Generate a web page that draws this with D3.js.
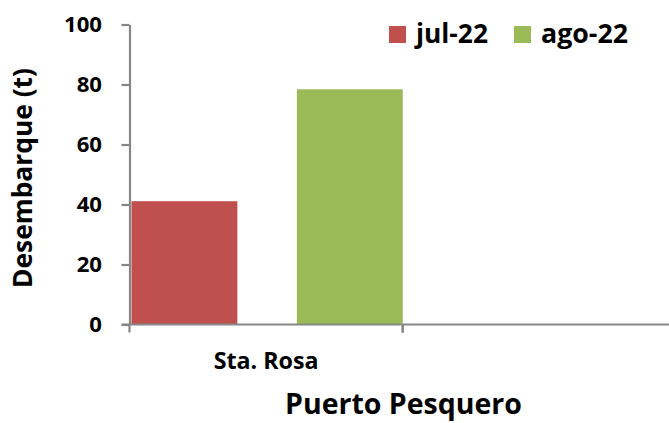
<!DOCTYPE html>
<html>
<head>
<meta charset="utf-8">
<script src="https://cdn.jsdelivr.net/npm/d3@7"></script>
<style>
  body { margin: 0; background: #fff; }
  text { font-family: "Open Sans", Lato, sans-serif; font-weight: bold; fill: #000; }
</style>
</head>
<body>
<div id="chart"></div>
<script>
// chart data
const CATEGORIES = ['Sta. Rosa', ''];
const SERIES = ['jul-22', 'ago-22'];
const JUL_22 = [41.1, null];
const AGO_22 = [78.4, null];
const Y_TICKS = [0, 20, 40, 60, 80, 100];
const COLORS = ['#C0504D', '#9BBB59'];

const FRAME_WIDTH = 669;
const FRAME_HEIGHT = 423;
const MARGINS = {left: 129.5, right: -7, top: 24.5, bottom: 98.5};
const AXIS_COLOR = '#878787';

const FRAME = d3.select('#chart')
    .append('svg')
        .attr('width', FRAME_WIDTH)
        .attr('height', FRAME_HEIGHT);

// shrink/grow a text so it is as wide as the original one
function fitWidth(sel, target) {
    sel.each(function() {
        const w = this.getComputedTextLength();
        const fs = parseFloat(d3.select(this).attr('font-size'));
        if (w > 0) d3.select(this).attr('font-size', (fs * target / w).toFixed(2) + 'px');
    });
}

// scales
const X_SCALE = d3.scaleBand()
    .domain(CATEGORIES)
    .range([MARGINS.left, FRAME_WIDTH - MARGINS.right])
    .padding(0);

const X_INNER = d3.scaleBand()
    .domain(SERIES)
    .range([2, X_SCALE.bandwidth()])
    .paddingInner(0.36)
    .paddingOuter(0);

const Y_SCALE = d3.scaleLinear()
    .domain([0, 100])
    .range([FRAME_HEIGHT - MARGINS.bottom, MARGINS.top]);

// bars
const rows = [];
CATEGORIES.forEach((c, i) => {
    [JUL_22, AGO_22].forEach((vals, j) => {
        if (vals[i] != null) rows.push({cat: c, series: SERIES[j], value: vals[i], color: COLORS[j]});
    });
});

FRAME.selectAll('.bar')
    .data(rows)
    .enter()
    .append('rect')
        .attr('class', 'bar')
        .attr('x', d => X_SCALE(d.cat) + X_INNER(d.series))
        .attr('width', X_INNER.bandwidth())
        .attr('y', d => Y_SCALE(d.value))
        .attr('height', d => Y_SCALE(0) - Y_SCALE(d.value))
        .attr('fill', d => d.color);

// y axis
const yAxis = FRAME.append('g')
    .attr('transform', 'translate(' + MARGINS.left + ',0)')
    .call(d3.axisLeft(Y_SCALE).tickValues(Y_TICKS).tickSize(8).tickPadding(19.5).tickSizeOuter(0));
yAxis.selectAll('path, line').attr('stroke', AXIS_COLOR).attr('stroke-width', 2.2);
yAxis.selectAll('text').attr('font-size', '19px').attr('fill', '#000');
fitWidth(yAxis.selectAll('text').filter(d => d === 100), 38);
yAxis.selectAll('text').attr('font-size', yAxis.selectAll('text').filter(d => d === 100).attr('font-size'));

// x axis (ticks on category boundaries, as in the original)
const xAxis = FRAME.append('g');
xAxis.append('line')
    .attr('x1', MARGINS.left - 8)
    .attr('x2', FRAME_WIDTH)
    .attr('y1', Y_SCALE(0))
    .attr('y2', Y_SCALE(0))
    .attr('stroke', AXIS_COLOR)
    .attr('stroke-width', 2.2);
xAxis.selectAll('.xtick')
    .data(CATEGORIES)
    .enter()
    .append('line')
        .attr('x1', d => X_SCALE(d))
        .attr('x2', d => X_SCALE(d))
        .attr('y1', Y_SCALE(0))
        .attr('y2', Y_SCALE(0) + 8)
        .attr('stroke', AXIS_COLOR)
        .attr('stroke-width', 2.2);
xAxis.selectAll('.xtick-end')
    .data(CATEGORIES.slice(0, 1))
    .enter()
    .append('line')
        .attr('x1', d => X_SCALE(d) + X_SCALE.bandwidth())
        .attr('x2', d => X_SCALE(d) + X_SCALE.bandwidth())
        .attr('y1', Y_SCALE(0))
        .attr('y2', Y_SCALE(0) + 8)
        .attr('stroke', AXIS_COLOR)
        .attr('stroke-width', 2.2);
const xLabels = xAxis.selectAll('.xlabel')
    .data(CATEGORIES)
    .enter()
    .append('text')
        .attr('x', d => X_SCALE(d) + X_SCALE.bandwidth() / 2)
        .attr('y', 369)
        .attr('text-anchor', 'middle')
        .attr('font-size', '20px')
        .text(d => d);
fitWidth(xLabels.filter(d => d !== ''), 105);

// axis titles
FRAME.append('text')
    .attr('x', 403.5)
    .attr('y', 414)
    .attr('text-anchor', 'middle')
    .attr('font-size', '24px')
    .text('Puerto Pesquero')
    .call(fitWidth, 237);

FRAME.append('text')
    .attr('transform', 'translate(32,178) rotate(-90)')
    .attr('text-anchor', 'middle')
    .attr('font-size', '24px')
    .text('Desembarque (t)')
    .call(fitWidth, 220);

// legend
const LEGEND_X = [389, 514];
const LEGEND_W = [72, 87];
const legend = FRAME.selectAll('.legend')
    .data(SERIES)
    .enter()
    .append('g')
        .attr('class', 'legend')
        .attr('transform', (d, i) => 'translate(' + LEGEND_X[i] + ',26)');
legend.append('rect')
    .attr('width', 17)
    .attr('height', 17)
    .attr('fill', (d, i) => COLORS[i]);
legend.append('text')
    .attr('x', 27)
    .attr('y', 17)
    .attr('font-size', '24px')
    .text(d => d)
    .each(function(d, i) { fitWidth(d3.select(this), LEGEND_W[i]); });
</script>
</body>
</html>
